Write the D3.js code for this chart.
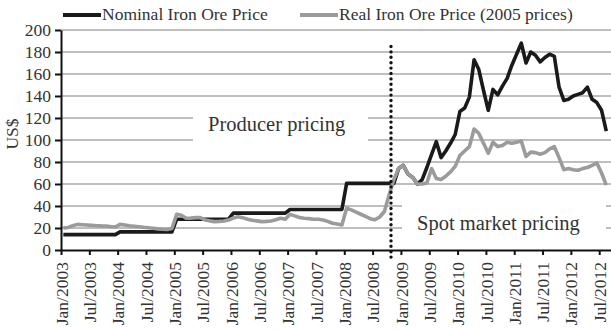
<!DOCTYPE html>
<html>
<head>
<meta charset="utf-8">
<script src="https://cdn.jsdelivr.net/npm/d3@7"></script>
<style>
  body { margin: 0; background: #fff; }
  svg { display: block; font-family: "Liberation Serif", "Times New Roman", serif; }
</style>
</head>
<body>
<svg width="611" height="330"></svg>
<script>
// monthly series, Jan 2003 .. Aug 2012 (US$)
var nominal = [
  14, 14, 14, 14, 14, 14, 14, 14, 14, 14, 14, 14,                       // 2003
  16.5, 16.5, 16.5, 16.5, 16.5, 16.5, 16.5, 16.5, 16.5, 16.5, 16.5, 16.5, // 2004
  28, 28, 28, 28, 28, 28, 28, 28, 28, 28, 28, 28,                       // 2005
  33.5, 33.5, 33.5, 33.5, 33.5, 33.5, 33.5, 33.5, 33.5, 33.5, 33.5, 33.5, // 2006
  36.8, 36.8, 36.8, 36.8, 36.8, 36.8, 36.8, 36.8, 36.8, 36.8, 36.8, 36.8, // 2007
  60.6, 60.6, 60.6, 60.6, 60.6, 60.6, 60.6, 60.6, 60.6, 60.6, 60.6, 74,   // 2008
  77, 69, 66, 60, 64, 75, 87, 98.5, 84, 90, 97, 105,                    // 2009
  126, 129, 139, 173, 164, 145, 127, 146, 141, 149, 156, 168,           // 2010
  178, 188, 170, 180, 177, 171, 175, 178, 176, 148, 136, 137,           // 2011
  140, 141.5, 143, 148, 137, 134, 127, 108                              // 2012
];
var real = [
  20, 20.5, 22, 23.3, 23, 22.7, 22.4, 22.1, 21.9, 21.8, 21.3, 20.9,
  23.3, 22.8, 22, 21.6, 21.2, 20.7, 20.3, 19.8, 19.2, 18.8, 18.6, 19.5,
  32.4, 31.5, 28.8, 29, 29.4, 29.4, 27.3, 26.5, 25.8, 26, 26.4, 27.3,
  29, 30.3, 29.4, 28, 27, 26.5, 25.8, 26, 26.4, 27.5, 28.8, 27.9,
  32.4, 31, 29.5, 28.8, 28.5, 28, 27.9, 27.3, 26, 24.3, 23.6, 22.7,
  37.9, 36.5, 34.5, 32.5, 30.5, 28.5, 27.5, 30, 35, 50, 64, 74,
  77, 69, 66, 60, 60, 61, 74, 65, 64, 67, 71, 76,
  86, 90, 94, 110, 106, 97, 88, 98, 94, 95, 98, 97,
  98, 99, 85, 89, 88.5, 87, 88.5, 92, 94, 84, 73, 74,
  73, 72.5, 74, 75, 77, 79, 70, 59
];
var tickLabels = ["Jan/2003", "Jul/2003", "Jan/2004", "Jul/2004", "Jan/2005", "Jul/2005",
  "Jan/2006", "Jul/2006", "Jan/2007", "Jul/2007", "Jan/2008", "Jul/2008",
  "Jan/2009", "Jul/2009", "Jan/2010", "Jul/2010", "Jan/2011", "Jul/2011",
  "Jan/2012", "Jul/2012"];
var yTicks = [0, 20, 40, 60, 80, 100, 120, 140, 160, 180, 200];
var seriesNames = ["Nominal Iron Ore Price", "Real Iron Ore Price (2005 prices)"];
var spotStart = 69.9; // month index where spot pricing begins (dotted line)

var svg = d3.select("svg");
var plot = {left: 61, right: 611, top: 30, bottom: 250};

var x = d3.scaleLinear().domain([0, 116.5]).range([plot.left, plot.right]);
var y = d3.scaleLinear().domain([0, 200]).range([plot.bottom, plot.top]);

// grid
svg.append("g").selectAll("line")
  .data(yTicks.slice(1))
  .enter().append("line")
  .attr("x1", plot.left).attr("x2", plot.right)
  .attr("y1", function(d) { return y(d); })
  .attr("y2", function(d) { return y(d); })
  .attr("stroke", "#a8a8a8")
  .attr("stroke-width", 1.6);

// annotation boxes + text
var notes = [
  {text: "Producer pricing", box: [193, 104, 175, 46], tx: 208, ty: 131},
  {text: "Spot market pricing", box: [402, 194, 204, 51], tx: 417, ty: 230}
];
notes.forEach(function(n) {
  svg.append("rect")
    .attr("x", n.box[0]).attr("y", n.box[1])
    .attr("width", n.box[2]).attr("height", n.box[3])
    .attr("fill", "#fff");
  svg.append("text")
    .attr("x", n.tx).attr("y", n.ty)
    .attr("font-size", 20.5)
    .attr("fill", "#333")
    .text(n.text);
});

// lines
var line = d3.line()
  .x(function(d, i) { return x(i + 0.5); })
  .y(function(d) { return y(d); });

svg.append("path")
  .datum(nominal)
  .attr("d", line)
  .attr("fill", "none")
  .attr("stroke", "#1a1a1a")
  .attr("stroke-width", 3.6)
  .attr("stroke-linejoin", "round");

svg.append("path")
  .datum(real)
  .attr("d", line)
  .attr("fill", "none")
  .attr("stroke", "#9b9b9b")
  .attr("stroke-width", 3.6)
  .attr("stroke-linejoin", "round");

// dotted divider
svg.append("line")
  .attr("x1", x(spotStart)).attr("x2", x(spotStart))
  .attr("y1", y(185)).attr("y2", y(-7.5))
  .attr("stroke", "#111")
  .attr("stroke-width", 3.4)
  .attr("stroke-linecap", "round")
  .attr("stroke-dasharray", "0 5.4");

// axes
var yAxis = svg.append("g")
  .attr("transform", "translate(" + plot.left + ",0)")
  .call(d3.axisLeft(y).tickValues(yTicks).tickSize(6).tickPadding(4).tickSizeOuter(0));

var xAxis = svg.append("g")
  .attr("transform", "translate(0," + plot.bottom + ")")
  .call(d3.axisBottom(x)
    .tickValues(tickLabels.map(function(d, i) { return i * 6; }))
    .tickFormat(function(d) { return tickLabels[d / 6]; })
    .tickSize(5).tickSizeOuter(0));

[yAxis, xAxis].forEach(function(g) {
  g.select(".domain").attr("stroke", "#111").attr("stroke-width", 2);
  g.selectAll(".tick line").attr("stroke", "#111").attr("stroke-width", 2);
  g.selectAll("text")
    .attr("font-family", "Liberation Serif, serif")
    .attr("font-size", 17.5)
    .attr("fill", "#333");
});

xAxis.selectAll("text")
  .attr("transform", "rotate(-90)")
  .attr("text-anchor", "end")
  .attr("x", -12)
  .attr("y", 0)
  .attr("dy", "0.35em");

// y label
svg.append("text")
  .attr("transform", "translate(18,134) rotate(-90)")
  .attr("text-anchor", "middle")
  .attr("font-size", 17.5)
  .attr("fill", "#333")
  .text("US$");

// legend
var legend = svg.append("g");
var legendX = [63, 300];
var legendColors = ["#1a1a1a", "#9b9b9b"];
seriesNames.forEach(function(name, i) {
  legend.append("line")
    .attr("x1", legendX[i]).attr("x2", legendX[i] + 38)
    .attr("y1", 15).attr("y2", 15)
    .attr("stroke", legendColors[i])
    .attr("stroke-width", 4);
  legend.append("text")
    .attr("x", legendX[i] + 39).attr("y", 20)
    .attr("font-size", 17.5)
    .attr("fill", "#333")
    .text(name);
});
</script>
</body>
</html>
